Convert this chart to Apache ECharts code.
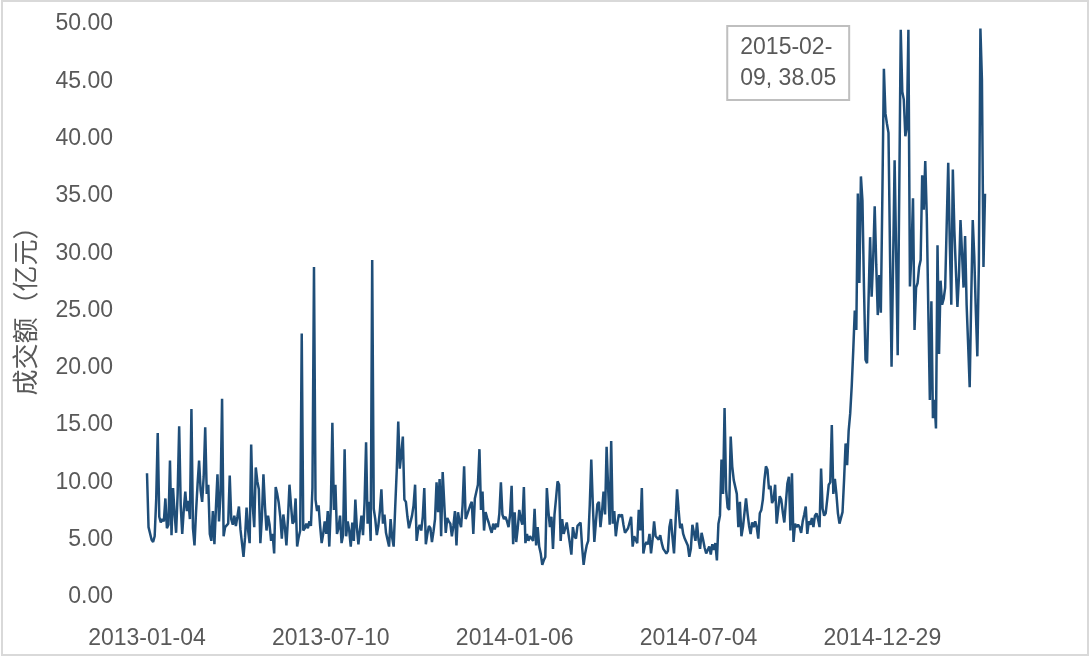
<!DOCTYPE html>
<html>
<head>
<meta charset="utf-8">
<script src="https://cdn.jsdelivr.net/npm/echarts@6/dist/echarts.min.js"></script>
<style>
  html, body { margin: 0; padding: 0; background: #fff; }
  #chart { position: absolute; left: 0; top: 0; width: 1089px; height: 657px; }
  #frame { position: absolute; left: 1px; top: 0px; width: 1084px; height: 652px; border: 2px solid #d9d9d9; pointer-events: none; }
</style>
</head>
<body>
<div id="chart"></div>
<div id="frame"></div>
<script>
// First trading day and exchange holidays (weekdays with no trading)
const startDate = '2013-01-04';
const holidays = [
  '2013-02-11','2013-02-12','2013-02-13','2013-02-14','2013-02-15',
  '2013-04-04','2013-04-05','2013-04-29','2013-04-30','2013-05-01',
  '2013-06-10','2013-06-11','2013-06-12','2013-09-19','2013-09-20',
  '2013-10-01','2013-10-02','2013-10-03','2013-10-04','2013-10-07',
  '2014-01-01','2014-01-31','2014-02-03','2014-02-04','2014-02-05','2014-02-06',
  '2014-04-07','2014-05-01','2014-05-02','2014-06-02','2014-09-08',
  '2014-10-01','2014-10-02','2014-10-03','2014-10-06','2014-10-07',
  '2015-01-01','2015-01-02','2015-02-18','2015-02-19','2015-02-20','2015-02-23','2015-02-24',
  '2015-04-06'
];

// Daily turnover (亿元)
const turnover = [
  10.8, 6.1, 6.0, 5.0, 4.8, 5.3, 8.5, 14.3, 7.0, 6.5,
  6.8, 6.6, 8.6, 6.0, 6.3, 11.9, 5.4, 9.5, 7.3, 5.6,
  9.0, 14.9, 8.0, 5.5, 7.6, 9.2, 7.5, 8.4, 6.8, 16.4,
  6.0, 4.5, 7.4, 9.8, 11.9, 9.3, 8.3, 10.5, 14.8, 9.0,
  9.8, 5.5, 4.9, 7.5, 4.6, 7.8, 10.7, 6.6, 8.9, 17.3,
  5.3, 6.1, 6.2, 6.4, 10.6, 6.8, 6.3, 7.1, 6.2, 7.0,
  7.9, 5.9, 4.7, 3.5, 5.2, 7.8, 5.8, 4.7, 13.3, 8.0,
  6.1, 11.3, 10.1, 9.4, 4.7, 7.0, 10.7, 7.9, 5.8, 7.1,
  6.3, 4.9, 5.5, 3.8, 9.6, 9.0, 8.2, 7.0, 5.1, 7.2,
  6.1, 4.5, 6.8, 9.8, 8.0, 6.4, 6.6, 8.6, 4.4, 5.2,
  5.8, 23.0, 5.8, 6.0, 6.4, 6.0, 6.6, 6.2, 9.5, 28.8,
  8.5, 7.5, 8.0, 6.2, 4.7, 5.5, 6.6, 5.5, 7.5, 4.4,
  8.0, 15.2, 7.6, 9.8, 5.5, 6.0, 7.1, 4.7, 5.4, 12.9,
  5.3, 6.6, 5.8, 4.4, 6.5, 4.9, 8.5, 6.0, 4.6, 5.9,
  7.1, 5.4, 8.2, 13.5, 6.4, 8.3, 4.9, 29.4, 7.7, 6.8,
  5.4, 6.2, 7.5, 9.4, 6.4, 7.2, 5.6, 5.0, 4.4, 6.8,
  5.2, 4.4, 7.8, 11.0, 15.3, 11.2, 12.5, 14.0, 8.5, 8.3,
  7.0, 6.0, 6.1, 7.1, 8.0, 9.8, 4.9, 5.9, 6.3, 5.8,
  7.0, 9.5, 4.6, 5.5, 6.2, 6.0, 4.8, 5.7, 6.8, 10.0,
  7.4, 10.3, 5.3, 10.9, 11.0, 5.6, 6.9, 6.6, 6.4, 5.3,
  6.2, 7.5, 4.5, 7.4, 6.6, 6.1, 8.0, 11.4, 6.8, 7.2,
  7.6, 8.0, 8.3, 5.5, 8.6, 8.5, 9.8, 12.9, 7.6, 9.2,
  5.8, 7.4, 6.9, 6.5, 6.0, 5.6, 6.4, 5.9, 6.4, 6.1,
  7.3, 10.0, 7.2, 6.8, 7.0, 6.6, 6.1, 7.2, 9.7, 4.6,
  7.4, 4.8, 6.0, 7.6, 6.8, 6.3, 9.6, 4.7, 5.5, 4.9,
  5.3, 5.2, 4.9, 7.7, 4.5, 6.1, 4.4, 3.8, 2.8, 3.2,
  3.5, 9.5, 7.5, 6.1, 7.0, 4.2, 7.2, 8.6, 10.1, 9.8,
  4.9, 6.8, 5.5, 6.0, 6.5, 6.6, 4.7, 3.7, 6.1, 5.3,
  5.1, 6.2, 6.1, 6.5, 4.4, 2.8, 3.8, 4.5, 4.9, 8.0,
  12.0, 8.1, 4.8, 6.5, 8.1, 8.3, 6.1, 7.4, 9.2, 7.2,
  13.1, 9.5, 6.3, 13.6, 6.4, 7.5, 5.3, 6.4, 7.2, 7.0,
  7.2, 6.3, 5.6, 5.5, 6.0, 6.5, 7.0, 4.4, 5.3, 5.0,
  4.7, 7.6, 5.8, 9.5, 3.8, 4.5, 4.8, 4.6, 5.5, 3.8,
  5.0, 6.6, 5.3, 5.4, 5.0, 5.4, 4.7, 4.2, 4.0, 3.8,
  4.0, 6.1, 6.8, 5.2, 3.8, 6.5, 9.4, 7.6, 6.0, 6.4,
  5.5, 5.1, 4.8, 4.5, 3.5, 4.2, 6.3, 6.2, 4.9, 6.5,
  5.0, 4.2, 5.6, 5.0, 4.3, 3.8, 3.9, 4.4, 3.7, 4.6,
  4.1, 4.7, 3.2, 6.4, 7.1, 12.0, 9.0, 16.5, 9.4, 7.8,
  7.6, 14.0, 11.4, 10.2, 10.1, 9.0, 6.1, 8.3, 5.3, 6.1,
  6.0, 8.6, 7.3, 6.2, 5.5, 6.5, 6.1, 6.6, 6.1, 5.1,
  7.3, 7.6, 8.5, 10.2, 11.4, 11.1, 9.4, 9.7, 8.2, 8.5,
  9.8, 6.4, 6.4, 8.8, 8.5, 7.4, 6.5, 6.6, 9.9, 10.5,
  5.8, 10.8, 4.8, 6.4, 6.1, 6.3, 6.1, 5.6, 6.6, 7.2,
  7.9, 5.5, 6.6, 6.3, 6.9, 6.1, 7.1, 7.3, 6.8, 6.1,
  11.2, 7.7, 7.1, 7.3, 8.5, 9.8, 10.0, 15.0, 9.0, 10.3,
  9.0, 7.3, 6.4, 6.9, 7.4, 10.2, 13.4, 11.5, 14.5, 16.0,
  18.4, 21.5, 25.0, 23.3, 35.2, 27.4, 36.7, 34.6, 27.0, 20.7,
  20.4, 26.0, 31.4, 26.2, 29.5, 34.1, 29.0, 24.6, 28.1, 24.8,
  35.0, 46.1, 42.2, 41.3, 40.5, 30.0, 20.1, 29.0, 38.1, 30.0,
  21.1, 35.0, 49.5, 44.1, 43.4, 40.2, 41.0, 49.5, 27.1, 30.0,
  34.8, 23.3, 27.0, 27.4, 28.8, 29.4, 36.8, 33.8, 38.05, 33.2,
  25.0, 17.2, 25.8, 15.6, 17.2, 14.7, 30.7, 21.2, 27.6, 25.5,
  26.0, 27.0, 32.5, 37.9, 31.0, 25.5, 37.3, 32.0, 28.5, 25.3,
  28.0, 32.9, 30.0, 27.0, 31.5, 25.5, 22.0, 18.3, 26.0, 32.9,
  29.7, 25.0, 21.0, 29.1, 49.6, 45.1, 28.8, 35.2
];

const yTicks = { min: 0, max: 50, interval: 5 };
const annotation = { date: '2015-02-09', value: 38.05 };
const axisName = '成交额（亿元）';

// Build trading-day categories
function pad(n) { return (n < 10 ? '0' : '') + n; }
const holidaySet = new Set(holidays);
const dates = [];
{
  const p = startDate.split('-').map(Number);
  let t = Date.UTC(p[0], p[1] - 1, p[2]);
  while (dates.length < turnover.length) {
    const d = new Date(t);
    const s = d.getUTCFullYear() + '-' + pad(d.getUTCMonth() + 1) + '-' + pad(d.getUTCDate());
    const wd = d.getUTCDay();
    if (wd !== 0 && wd !== 6 && !holidaySet.has(s)) dates.push(s);
    t += 86400000;
  }
}

const textColor = '#595959';
const font = 'Liberation Sans, Arial, sans-serif';

const chart = echarts.init(document.getElementById('chart'), null, { renderer: 'canvas' });
chart.setOption({
  animation: false,
  backgroundColor: '#ffffff',
  grid: { left: 147, right: 104, top: 24, bottom: 60, containLabel: false },
  xAxis: {
    type: 'category',
    data: dates,
    boundaryGap: false,
    axisLine: { show: false },
    axisTick: { show: false },
    splitLine: { show: false },
    axisLabel: {
      interval: 119,
      color: textColor,
      fontSize: 23,
      fontFamily: font,
      margin: 30,
      hideOverlap: false
    }
  },
  yAxis: {
    type: 'value',
    min: yTicks.min,
    max: yTicks.max,
    interval: yTicks.interval,
    name: axisName,
    nameLocation: 'middle',
    nameGap: 109,
    nameTextStyle: { color: textColor, fontSize: 26, fontFamily: 'Noto Sans CJK SC, sans-serif', padding: [0, 0, 0, 12] },
    axisLine: { show: false },
    axisTick: { show: false },
    splitLine: { show: false },
    axisLabel: {
      color: textColor,
      fontSize: 23,
      fontFamily: font,
      margin: 34,
      formatter: function (v) { return v.toFixed(2); }
    }
  },
  series: [{
    type: 'line',
    data: turnover,
    showSymbol: false,
    symbol: 'none',
    lineStyle: { color: '#1F4E79', width: 2.5 },
    itemStyle: { color: '#1F4E79' },
    markPoint: {
      symbol: 'rect',
      symbolSize: 0,
      silent: true,
      data: [{
        coord: [annotation.date, annotation.value],
        label: {
          show: true,
          position: 'inside',
          offset: [-197, -98],
          formatter: annotation.date.slice(0, 8) + '\n' + annotation.date.slice(8) + ', ' + annotation.value.toFixed(2),
          color: textColor,
          fontSize: 23,
          fontFamily: font,
          lineHeight: 31,
          align: 'left',
          backgroundColor: '#ffffff',
          borderColor: '#bfbfbf',
          borderWidth: 2,
          padding: [6, 12, 4, 12]
        }
      }]
    }
  }]
});
</script>
</body>
</html>
